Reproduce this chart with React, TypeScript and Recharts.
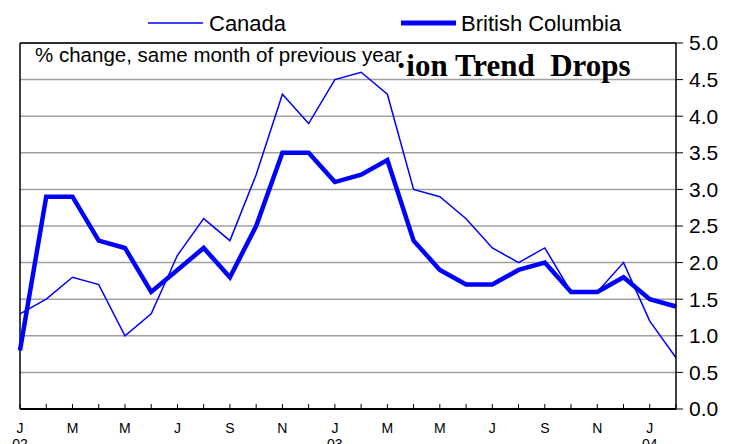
import { LineChart, Line, XAxis, YAxis, CartesianGrid, ReferenceLine, Legend } from "recharts";

const months = [
  "2002-01", "2002-02", "2002-03", "2002-04", "2002-05", "2002-06",
  "2002-07", "2002-08", "2002-09", "2002-10", "2002-11", "2002-12",
  "2003-01", "2003-02", "2003-03", "2003-04", "2003-05", "2003-06",
  "2003-07", "2003-08", "2003-09", "2003-10", "2003-11", "2003-12",
  "2004-01", "2004-02",
];
const monthLetters = ["J", "F", "M", "A", "M", "J", "J", "A", "S", "O", "N", "D"];

const canada = [1.3, 1.5, 1.8, 1.7, 1.0, 1.3, 2.1, 2.6, 2.3, 3.2, 4.3, 3.9, 4.5, 4.6, 4.3, 3.0, 2.9, 2.6, 2.2, 2.0, 2.2, 1.6, 1.6, 2.0, 1.2, 0.7];
const britishColumbia = [0.8, 2.9, 2.9, 2.3, 2.2, 1.6, 1.9, 2.2, 1.8, 2.5, 3.5, 3.5, 3.1, 3.2, 3.4, 2.3, 1.9, 1.7, 1.7, 1.9, 2.0, 1.6, 1.6, 1.8, 1.5, 1.4];
const yTicks = [0, 0.5, 1, 1.5, 2, 2.5, 3, 3.5, 4, 4.5, 5];

const data = months.map((m, i) => ({ month: m, canada: canada[i], bc: britishColumbia[i] }));

const FONT = "'Liberation Sans', Arial, sans-serif";

function MonthTick(props: any) {
  const { x, y, payload, index } = props;
  if (index % 2 !== 0) return null;
  const [yr, mo] = String(payload.value).split("-");
  const letter = monthLetters[Number(mo) - 1];
  return (
    <g>
      <text x={x} y={y} textAnchor="middle" fontSize={14} fontFamily={FONT} fill="#000">
        {letter}
      </text>
      {mo === "01" && (
        <text x={x} y={y + 16} textAnchor="middle" fontSize={14} fontFamily={FONT} fill="#000">
          {yr.slice(2)}
        </text>
      )}
    </g>
  );
}

function LegendBox() {
  return (
    <svg width={732} height={40}>
      <line x1={148} x2={203} y1={23} y2={23} stroke="#0000FF" strokeWidth={1.5} />
      <text x={209} y={31} fontSize={22} fontFamily={FONT} fill="#000">Canada</text>
      <line x1={401} x2={456} y1={23} y2={23} stroke="#0000FF" strokeWidth={5} />
      <text x={461} y={31} fontSize={22} fontFamily={FONT} fill="#000">British Columbia</text>
    </svg>
  );
}

export default function App() {
  return (
    <div style={{ position: "absolute", left: 0, top: 0, width: 732, height: 444, background: "#fff" }}>
      <LineChart width={732} height={444} data={data} margin={{ top: 43, right: 0, bottom: 0, left: 20 }}>
        <CartesianGrid vertical={false} stroke="#a0a0a0" strokeWidth={1.5} />
        <XAxis
          dataKey="month"
          interval={0}
          height={35}
          tickSize={-5}
          tickMargin={29}
          tick={<MonthTick />}
          axisLine={{ stroke: "#000", strokeWidth: 2 }}
          tickLine={{ stroke: "#000" }}
        />
        <YAxis
          orientation="right"
          width={56}
          domain={[0, 5]}
          ticks={yTicks}
          interval={0}
          tickFormatter={(v: number) => v.toFixed(1)}
          tick={{ fontSize: 21, fill: "#000", fontFamily: FONT }}
          tickSize={7}
          tickMargin={6}
          axisLine={{ stroke: "#000", strokeWidth: 1.5 }}
          tickLine={{ stroke: "#000" }}
        />
        <ReferenceLine y={5} stroke="#000" strokeWidth={1.5} />
        <ReferenceLine x={months[0]} stroke="#000" strokeWidth={1.5} />
        <Legend
          verticalAlign="middle"
          align="center"
          layout="horizontal"
          wrapperStyle={{ top: 0, left: 0, width: 732 }}
          content={() => <LegendBox />}
        />
        <Line
          type="linear"
          dataKey="canada"
          name="Canada"
          stroke="#0000FF"
          strokeWidth={1.5}
          dot={false}
          isAnimationActive={false}
        />
        <Line
          type="linear"
          dataKey="bc"
          name="British Columbia"
          stroke="#0000FF"
          strokeWidth={4.5}
          dot={false}
          isAnimationActive={false}
        />
      </LineChart>
      <div
        style={{
          position: "absolute",
          left: 35,
          top: 43,
          fontFamily: FONT,
          fontSize: 20.5,
          color: "#000",
          whiteSpace: "nowrap",
        }}
      >
        % change, same month of previous year
      </div>
      <div
        style={{
          position: "absolute",
          left: 396,
          top: 48,
          fontFamily: "'Liberation Serif', 'Times New Roman', serif",
          fontWeight: "bold",
          fontSize: 31,
          color: "#000",
          whiteSpace: "pre",
        }}
      >
        ·ion Trend  Drops
      </div>
    </div>
  );
}
